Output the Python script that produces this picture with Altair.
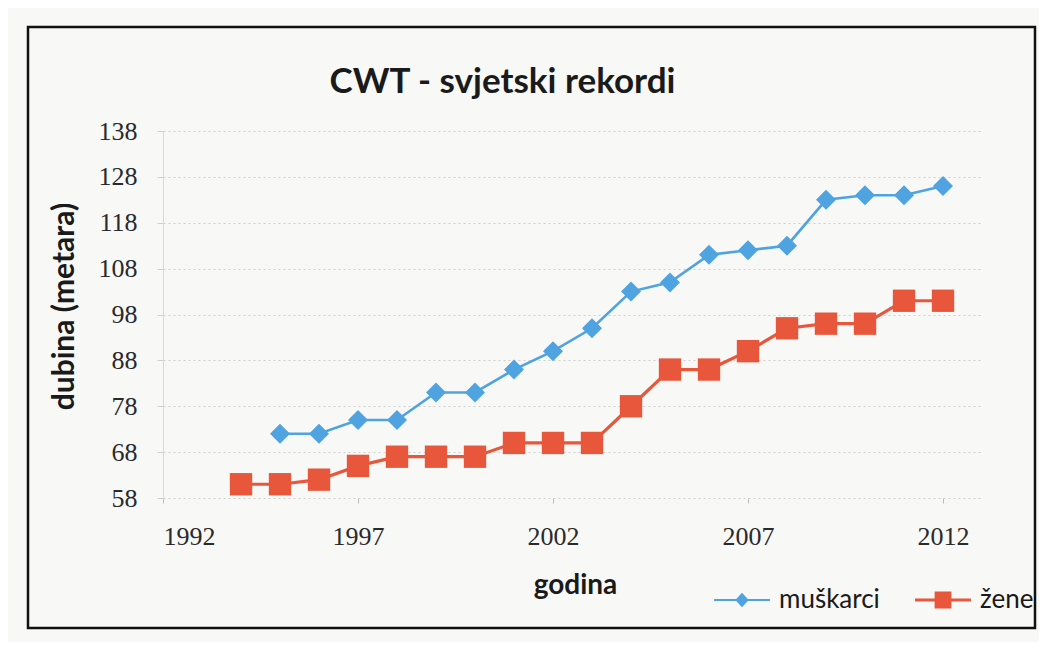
import altair as alt
import pandas as pd

# ---- data ----
years_men = [1995, 1996, 1997, 1998, 1999, 2000, 2001, 2002, 2003, 2004,
             2005, 2006, 2007, 2008, 2009, 2010, 2011, 2012]
depth_men = [72, 72, 75, 75, 81, 81, 86, 90, 95, 103,
             105, 111, 112, 113, 123, 124, 124, 126]
years_women = [1994, 1995, 1996, 1997, 1998, 1999, 2000, 2001, 2002, 2003,
               2004, 2005, 2006, 2007, 2008, 2009, 2010, 2011, 2012]
depth_women = [61, 61, 62, 65, 67, 67, 67, 70, 70, 70,
               78, 86, 86, 90, 95, 96, 96, 101, 101]
series_names = ["muškarci", "žene"]
x_ticks = [1992, 1997, 2002, 2007, 2012]
y_ticks = [58, 68, 78, 88, 98, 108, 118, 128, 138]

title_text = "CWT - svjetski rekordi"
x_title = "godina"
y_title = "dubina (metara)"

BLUE = "#4ea3e0"
ORANGE = "#e8573b"

df = pd.concat([
    pd.DataFrame({"godina": years_men, "dubina": depth_men, "serija": series_names[0]}),
    pd.DataFrame({"godina": years_women, "dubina": depth_women, "serija": series_names[1]}),
], ignore_index=True)

W, H = 819, 367

x_enc = alt.X("godina:Q", scale=alt.Scale(domain=[1992, 2013], nice=False, zero=False),
              axis=alt.Axis(values=x_ticks, title=x_title, format="d", grid=False,
                            domain=False, tickColor="#bdbdbd", tickSize=5,
                            labelPadding=20, labelFontSize=26, labelFont="Liberation Serif",
                            labelColor="#2a2a2a",
                            titleFont="Lato", titleFontSize=28, titleFontWeight="bold",
                            titleColor="#1a1a1a", titleX=412, titleY=95,
                            titleBaseline="alphabetic", titleAlign="center"))
y_enc = alt.Y("dubina:Q", scale=alt.Scale(domain=[58, 138], nice=False, zero=False),
              axis=alt.Axis(values=y_ticks, title=y_title, grid=True,
                            gridColor="#cfcfcf", gridDash=[2, 3], gridWidth=1,
                            domain=True, domainColor="#dadada", domainWidth=1,
                            tickColor="#cfcfcf", tickSize=6, labelPadding=20,
                            labelFontSize=26, labelFont="Liberation Serif",
                            labelColor="#2a2a2a", labelBaseline="middle",
                            titleFont="Lato", titleFontSize=30, titleFontWeight="bold",
                            titleColor="#1a1a1a", titleX=-99, titleY=175,
                            titleAngle=270, titleAlign="center", titleBaseline="middle"))

col_scale = alt.Scale(domain=series_names, range=[BLUE, ORANGE])

base = alt.Chart(df)

lines = base.mark_line().encode(
    x=x_enc, y=y_enc,
    color=alt.Color("serija:N", scale=col_scale, legend=None),
    strokeWidth=alt.StrokeWidth("serija:N", scale=alt.Scale(domain=series_names, range=[2.6, 3.2]), legend=None),
)

points = base.mark_point(filled=True, opacity=1, strokeWidth=0).encode(
    x="godina:Q", y="dubina:Q",
    color=alt.Color("serija:N", scale=col_scale, legend=None),
    shape=alt.Shape("serija:N", scale=alt.Scale(domain=series_names, range=["diamond", "square"]), legend=None),
    size=alt.Size("serija:N", scale=alt.Scale(domain=series_names, range=[400, 500]), legend=None),
)

leg_line_diamond = "M-2.5,-0.1H2.5V0.1H-2.5Z M-0.6,0L0,-0.65L0.6,0L0,0.65Z"
leg_line_square = "M-2.5,-0.13H2.5V0.13H-2.5Z M-0.75,-0.75H0.75V0.75H-0.75Z"

legend_def = alt.Legend(title=None, orient="none", legendX=566, legendY=456,
                        direction="horizontal", symbolSize=500, symbolStrokeWidth=0,
                        labelFont="Lato", labelFontSize=26, labelColor="#1a1a1a",
                        labelOffset=24, columnPadding=35, padding=0, symbolOpacity=1)

legend_layer = base.transform_filter("datum.dubina > 1000").mark_point(filled=True).encode(
    x="godina:Q", y="dubina:Q",
    color=alt.Color("serija:N", scale=col_scale, legend=legend_def),
    shape=alt.Shape("serija:N", scale=alt.Scale(domain=series_names,
                                                 range=[leg_line_diamond, leg_line_square]),
                    legend=legend_def),
)

frame = alt.Chart(pd.DataFrame({"k": [0]})).mark_rect(
    fill=None, stroke="#111111", strokeWidth=2.5
).encode(x=alt.value(-135), x2=alt.value(872), y=alt.value(-104), y2=alt.value(497))

chart = alt.layer(frame, lines, points, legend_layer).resolve_scale(
    color="independent", shape="independent"
).properties(
    width=W, height=H,
    title=alt.TitleParams(title_text, font="Lato", fontSize=35, fontWeight="bold",
                          color="#1a1a1a", anchor="middle", dx=-70, dy=102, offset=0,
                          baseline="alphabetic"),
    autosize=alt.AutoSizeParams(type="none"),
    padding={"left": 155, "top": 123, "right": 57, "bottom": 144},
    background="#f8f8f7",
).configure_view(stroke=None)

chart.save("out.html", embed_options={"renderer": "svg", "actions": False})
